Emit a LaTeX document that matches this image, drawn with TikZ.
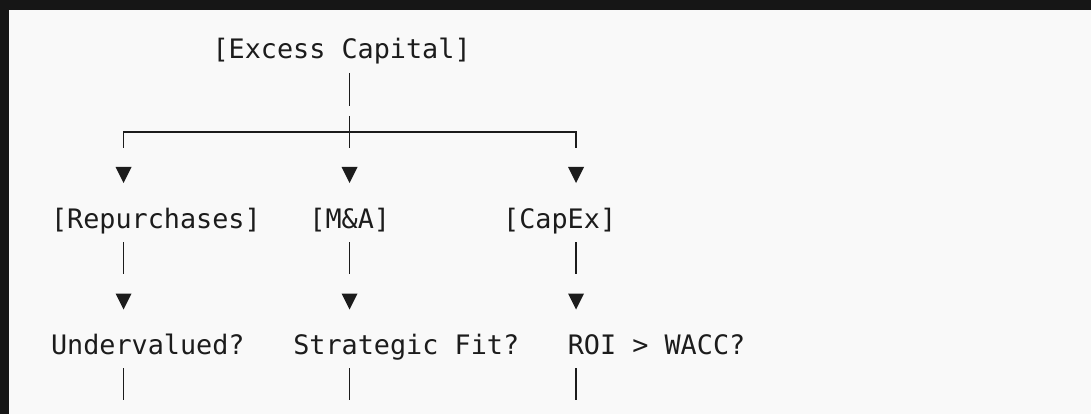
\documentclass[tikz,border=0pt]{standalone}
\usepackage{fontspec}
\newfontfamily\monofont{DejaVu Sans Mono}
\definecolor{frame}{HTML}{161616}
\definecolor{paper}{HTML}{F9F9F9}
\definecolor{ink}{HTML}{1C1C1C}
\tikzset{
  label/.style={anchor=base west, inner sep=0pt, outer sep=0pt, text=ink,
    font=\monofont\fontsize{26.8}{30}\selectfont},
  bar/.style={draw=ink, line width=1.8pt},
  tri/.style={fill=ink},
}
\begin{document}
\begin{tikzpicture}[x=1pt,y=-1pt]
\useasboundingbox (0,0) rectangle (1091,414);
\fill[frame] (0,0) rectangle (1091,414);
\fill[paper] (9,10) rectangle (1091,414);
% columns
\coordinate (L) at (123.5,0);
\coordinate (M) at (349.5,0);
\coordinate (R) at (576,0);
% rows
\coordinate (r1a) at (0,73);  \coordinate (r1b) at (0,106);
\coordinate (r2a) at (0,116); \coordinate (r2)  at (0,132); \coordinate (r2b) at (0,148);
\coordinate (r3)  at (0,175);
\coordinate (r5a) at (0,242); \coordinate (r5b) at (0,274);
\coordinate (r6)  at (0,301.5);
\coordinate (r8a) at (0,368); \coordinate (r8b) at (0,400);
% texts
\node[label] (ec)  at (212.5,59)  {[Excess Capital]};
\node[label] (rep) at (51,228)    {[Repurchases]};
\node[label] (ma)  at (309.4,228) {[M\&A]};
\node[label] (cap) at (503.2,228) {[CapEx]};
\node[label] (und) at (51,354)    {Undervalued?};
\node[label] (sf)  at (293.3,354) {Strategic Fit?};
\node[label] (roi) at (567.8,354) {ROI > WACC?};
% trunk
\draw[bar] (M |- r1a) -- (M |- r1b);
\draw[bar] (M |- r2a) -- (M |- r2b);
\draw[bar] (L |- r2b) -- (L |- r2) -- (R |- r2) -- (R |- r2b);
% branches
\foreach \c in {L,M,R}{
  \fill[tri, shift={(\c |- r3)}] (-8,-8) -- (8,-8) -- (0,8) -- cycle;
  \draw[bar] (\c |- r5a) -- (\c |- r5b);
  \fill[tri, shift={(\c |- r6)}] (-8,-8) -- (8,-8) -- (0,8) -- cycle;
  \draw[bar] (\c |- r8a) -- (\c |- r8b);
}
\end{tikzpicture}
\end{document}
